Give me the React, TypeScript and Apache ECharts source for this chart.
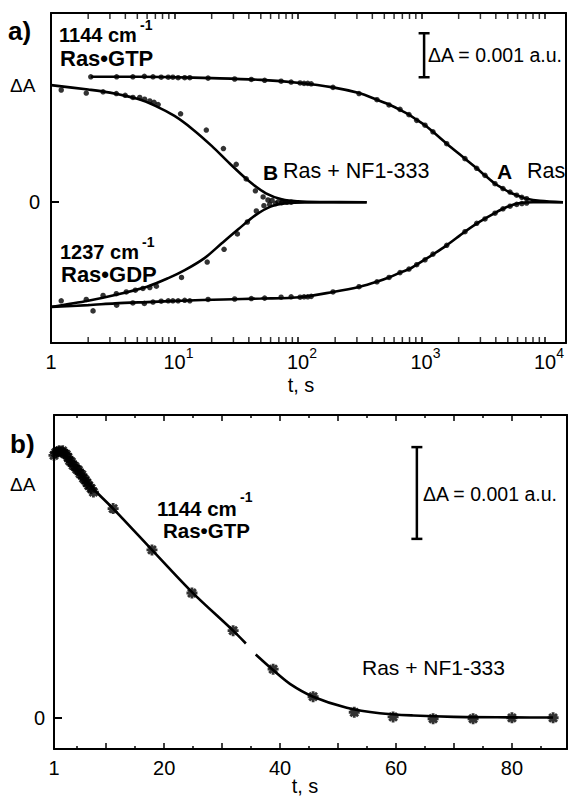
import React, { useEffect, useRef } from 'react';
import * as echarts from 'echarts';

const FONT = '"Liberation Sans", Arial, Helvetica, sans-serif';
const BLACK = '#000';

// ---------- panel a (log time axis), values in units of 0.001 a.u. ----------
// A: Ras intrinsic, 1144 cm-1 (Ras.GTP) - fit line
const aGtpFit: [number, number][] = [
  [2.1, 2.85], [5, 2.85], [10, 2.84], [20, 2.82], [50, 2.78], [104, 2.71], [192, 2.61], [312, 2.48],
  [436, 2.33], [546, 2.22], [670, 2.1], [792, 1.99], [915, 1.87], [1068, 1.75], [1239, 1.6], [1600, 1.33],
  [2250, 0.99], [2800, 0.77], [3267, 0.61], [3938, 0.42], [4570, 0.31], [5210, 0.22], [5900, 0.16],
  [7100, 0.08], [9120, 0.03], [14000, 0],
];
const aGtpPts: [number, number][] = [
  [2.1, 2.85], [3.4, 2.85], [4.6, 2.85], [5.7, 2.86], [6.7, 2.85], [7.8, 2.84], [8.9, 2.84], [9.7, 2.84],
  [10.7, 2.83], [12.1, 2.83], [13.3, 2.83], [18.7, 2.82], [30.7, 2.8], [41.9, 2.79], [53.7, 2.77], [73, 2.75],
  [88, 2.73], [104, 2.71], [112, 2.7], [120, 2.7], [128, 2.69], [192, 2.61], [312, 2.47], [436, 2.33],
  [546, 2.21], [670, 2.11], [792, 1.99], [915, 1.86], [1068, 1.75], [1239, 1.6], [1600, 1.33], [2250, 0.99],
  [2800, 0.77], [3267, 0.61], [3938, 0.42], [4570, 0.31], [5210, 0.23], [5900, 0.16], [6500, 0.11], [7100, 0.08],
];
// A: Ras intrinsic, 1237 cm-1 (Ras.GDP)
const aGdpFit: [number, number][] = [
  [1, -2.38], [2, -2.34], [3.3, -2.3], [6, -2.27], [11.3, -2.24], [25, -2.21], [50, -2.19], [104, -2.16],
  [192, -2.04], [317, -1.92], [434, -1.81], [556, -1.7], [670, -1.6], [808, -1.51], [1040, -1.32],
  [1250, -1.18], [1600, -0.98], [2250, -0.67], [2900, -0.46], [3850, -0.26], [4900, -0.11], [6260, -0.02],
  [8000, 0], [14000, 0],
];
const aGdpPts: [number, number][] = [
  [2.19, -2.47], [3.4, -2.34], [4.6, -2.29], [5.7, -2.3], [6.7, -2.27], [7.8, -2.25], [8.9, -2.24], [9.7, -2.24],
  [10.7, -2.24], [12.1, -2.23], [13.3, -2.24], [18.7, -2.21], [30.7, -2.2], [41.9, -2.19], [53.7, -2.18],
  [73, -2.16], [88, -2.15], [104, -2.16], [112, -2.15], [120, -2.15], [128, -2.14], [192, -2.04], [312, -1.92],
  [436, -1.81], [546, -1.71], [670, -1.6], [792, -1.52], [915, -1.42], [1068, -1.31], [1239, -1.18],
  [1600, -0.98], [2250, -0.67], [2800, -0.48], [3267, -0.38], [3938, -0.25], [4570, -0.15], [5210, -0.09],
  [5900, -0.05], [6500, -0.03], [7100, -0.02],
];
// B: Ras + NF1-333, 1144 cm-1
const bGtpFit: [number, number][] = [
  [1, 2.66], [2, 2.56], [3, 2.49], [5, 2.35], [7, 2.19], [10, 1.96], [14, 1.66], [20, 1.28], [28, 0.88],
  [40, 0.48], [55, 0.2], [75, 0.06], [100, 0.02], [150, 0.005], [360, 0],
];
const bGtpPts: [number, number][] = [
  [1.21, 2.55], [1.93, 2.48], [2.64, 2.51], [3.38, 2.47], [3.99, 2.43], [4.61, 2.38], [5.23, 2.38],
  [5.73, 2.34], [6.31, 2.3], [6.83, 2.27], [7.37, 2.22], [11.2, 2.01], [18.1, 1.64], [24.9, 1.22],
  [31.6, 0.86], [38.1, 0.53], [45.2, 0.26], [52.2, 0.12], [57.1, 0.05], [61.7, 0.04], [68.9, 0.01],
  [75, 0.02], [80, 0.01], [88, 0],
];
// B: Ras + NF1-333, 1237 cm-1
const bGdpFit: [number, number][] = [
  [1, -2.38], [2, -2.24], [3.3, -2.11], [6, -1.92], [9, -1.72], [12, -1.55], [17.5, -1.27], [24, -0.94],
  [33, -0.61], [45, -0.3], [60, -0.1], [83, -0.02], [120, -0.005], [360, 0],
];
const bGdpPts: [number, number][] = [
  [1.21, -2.24], [1.93, -2.21], [2.64, -2.12], [3.38, -2.08], [4.07, -2.04], [4.82, -2.0], [5.55, -1.96],
  [6.31, -1.94], [7.13, -1.91], [11.4, -1.71], [18.4, -1.36], [25.2, -1.07], [32.3, -0.72], [38.9, -0.45],
  [46, -0.2], [53, -0.08], [59, -0.05], [66, -0.03], [74, -0.01], [82, 0],
];
const logMinorTicks = [
  2, 3, 4, 5, 6, 7, 8, 9, 20, 30, 40, 50, 60, 70, 80, 90, 200, 300, 400, 500, 600, 700, 800, 900,
  2000, 3000, 4000, 5000, 6000, 7000, 8000, 9000,
];
const scaleBarA: [number, number][] = [[1050, 2.84], [1050, 3.84]];

// ---------- panel b (linear time axis) ----------
const linFit: ([number, number] | [number, null])[] = [
  [1, 2.86], [1.8, 2.9], [2.6, 2.89], [3.4, 2.84], [4.2, 2.77], [5, 2.7], [6, 2.62], [7, 2.55], [8, 2.48],
  [11.2, 2.28], [17.9, 1.83], [24.8, 1.37], [31.9, 0.95], [34.1, 0.81], [35, null], [35.8, 0.69],
  [38.8, 0.52], [41.7, 0.37], [45.7, 0.23], [51.5, 0.11], [57.2, 0.05], [63, 0.025], [70, 0.01],
  [80, 0.005], [87.1, 0.003],
];
const linPts: [number, number][] = [
  [1.0, 2.86], [1.3, 2.89], [1.6, 2.9], [1.9, 2.91], [2.2, 2.9], [2.5, 2.91], [2.8, 2.88], [3.1, 2.87],
  [3.4, 2.84], [3.7, 2.8], [4.0, 2.79], [4.3, 2.75], [4.6, 2.74], [4.9, 2.71], [5.2, 2.7], [5.5, 2.66],
  [5.8, 2.65], [6.1, 2.61], [6.4, 2.59], [6.7, 2.56], [7.0, 2.53], [7.4, 2.5], [7.8, 2.46],
  [11.2, 2.28], [17.9, 1.83], [24.8, 1.36], [31.9, 0.95], [38.8, 0.53], [45.7, 0.23], [52.8, 0.06],
  [59.5, 0.01], [66.4, -0.01], [73.3, -0.01], [80.0, 0], [87.1, 0],
];
const linMajorTicks = [10, 20, 30, 40, 50, 60, 70, 80];
const linMinorTicks = [5, 15, 25, 35, 45, 55, 65, 75, 85];
const linLabels = [1, 20, 40, 60, 80];
const scaleBarB: [number, number][] = [[63.6, 1.95], [63.6, 2.95]];

const ASTERISK =
  'path://M-1.3,-5L1.3,-5L1.3,5L-1.3,5Z M-5,-1.3L5,-1.3L5,1.3L-5,1.3Z ' +
  'M-4.46,-2.62L-2.62,-4.46L4.46,2.62L2.62,4.46Z M-2.62,4.46L-4.46,2.62L2.62,-4.46L4.46,-2.62Z';

const axisLineStyle = { show: true, onZero: false, lineStyle: { color: BLACK, width: 2 } };
const noLine = { show: false, onZero: false };

function txt(text: string, x: number, y: number, size: number, bold = false, align = 'left') {
  return {
    type: 'text',
    x,
    y,
    silent: true,
    style: {
      text,
      fill: BLACK,
      fontFamily: FONT,
      fontSize: size,
      fontWeight: bold ? 'bold' : 'normal',
      align,
      verticalAlign: 'middle',
    },
  };
}

function logLabel(v: number) {
  const l = Math.log10(v);
  const k = Math.round(l);
  if (Math.abs(l - k) > 1e-6) return '';
  return k === 0 ? '{b|1}' : `{bp|10}{s|${k}}`;
}

export default function App() {
  const ref = useRef<HTMLDivElement>(null);
  useEffect(() => {
    if (!ref.current) return;
    const chart = echarts.init(ref.current, undefined, { renderer: 'svg' });
    const lineS = (data: any, xi: number, yi: number) => ({
      type: 'line',
      data,
      xAxisIndex: xi,
      yAxisIndex: yi,
      showSymbol: false,
      smooth: 0.3,
      connectNulls: false,
      lineStyle: { color: BLACK, width: 2.6 },
      z: 2,
      silent: true,
    });
    const dotS = (data: any, xi: number, yi: number, symbol: string, size: number) => ({
      type: 'scatter',
      data,
      xAxisIndex: xi,
      yAxisIndex: yi,
      symbol,
      symbolSize: size,
      itemStyle: { color: BLACK },
      clip: false,
      z: 3,
      silent: true,
    });
    const barS = (data: any, xi: number, yi: number) => ({
      type: 'line',
      data,
      xAxisIndex: xi,
      yAxisIndex: yi,
      symbol: 'rect',
      symbolSize: [11, 2.5],
      showSymbol: true,
      itemStyle: { color: BLACK },
      lineStyle: { color: BLACK, width: 2.5 },
      silent: true,
    });
    const richBase = { fontSize: 20, fontFamily: FONT, color: BLACK, lineHeight: 26, verticalAlign: 'bottom' };
    const tickStyle = { color: BLACK, width: 1.5 };
    const option: any = {
      animation: false,
      backgroundColor: '#fff',
      grid: [
        { left: 51, top: 13, width: 515, height: 330, outerBoundsMode: 'none' },
        { left: 54, top: 415, width: 513, height: 334, outerBoundsMode: 'none' },
      ],
      xAxis: [
        {
          gridIndex: 0, type: 'log', logBase: 10, min: 1, max: 14800, position: 'bottom',
          axisLine: axisLineStyle,
          axisTick: { inside: true, length: 6, lineStyle: tickStyle },
          axisLabel: {
            margin: 3, formatter: logLabel, color: BLACK,
            rich: {
              b: richBase,
              bp: { ...richBase, padding: [0, 0, 0, 8] },
              s: { fontSize: 14, fontFamily: FONT, color: BLACK, lineHeight: 26, verticalAlign: 'top' },
            },
          },
          splitLine: { show: false },
        },
        {
          gridIndex: 0, type: 'log', logBase: 10, min: 1, max: 14800, position: 'top',
          axisLine: axisLineStyle,
          axisTick: { inside: true, length: 6, lineStyle: tickStyle },
          axisLabel: { show: false },
          splitLine: { show: false },
        },
        {
          gridIndex: 1, type: 'value', min: 1, max: 89.5, position: 'bottom',
          axisLine: axisLineStyle,
          axisTick: { inside: true, length: 6, customValues: linMajorTicks, lineStyle: tickStyle },
          axisLabel: { customValues: linLabels, margin: 9, fontSize: 20, fontFamily: FONT, color: BLACK },
          splitLine: { show: false },
        },
        {
          gridIndex: 1, type: 'value', min: 1, max: 89.5, position: 'bottom',
          axisLine: noLine,
          axisTick: { inside: true, length: 3, customValues: linMinorTicks, lineStyle: tickStyle },
          axisLabel: { show: false },
          splitLine: { show: false },
        },
        {
          gridIndex: 1, type: 'value', min: 1, max: 89.5, position: 'top',
          axisLine: axisLineStyle,
          axisTick: { inside: true, length: 6, customValues: linMajorTicks, lineStyle: tickStyle },
          axisLabel: { show: false },
          splitLine: { show: false },
        },
        {
          gridIndex: 1, type: 'value', min: 1, max: 89.5, position: 'top',
          axisLine: noLine,
          axisTick: { inside: true, length: 3, customValues: linMinorTicks, lineStyle: tickStyle },
          axisLabel: { show: false },
          splitLine: { show: false },
        },
      ],
      yAxis: [
        {
          gridIndex: 0, type: 'value', min: -3.2, max: 4.3, position: 'left',
          axisLine: axisLineStyle,
          axisTick: { inside: true, length: 8, customValues: [0], lineStyle: { color: BLACK, width: 2 } },
          axisLabel: { customValues: [0], margin: 11, fontSize: 20, fontFamily: FONT, color: BLACK },
          splitLine: { show: false },
        },
        {
          gridIndex: 0, type: 'value', min: -3.2, max: 4.3, position: 'right',
          axisLine: axisLineStyle, axisTick: { show: false }, axisLabel: { show: false },
          splitLine: { show: false },
        },
        {
          gridIndex: 1, type: 'value', min: -0.34, max: 3.3, position: 'left',
          axisLine: axisLineStyle,
          axisTick: { inside: true, length: 8, customValues: [0], lineStyle: { color: BLACK, width: 2 } },
          axisLabel: { customValues: [0], margin: 9, fontSize: 20, fontFamily: FONT, color: BLACK },
          splitLine: { show: false },
        },
        {
          gridIndex: 1, type: 'value', min: -0.34, max: 3.3, position: 'right',
          axisLine: axisLineStyle, axisTick: { show: false }, axisLabel: { show: false },
          splitLine: { show: false },
        },
      ],
      series: [
        lineS(aGtpFit, 0, 0),
        lineS(aGdpFit, 0, 0),
        lineS(bGtpFit, 0, 0),
        lineS(bGdpFit, 0, 0),
        dotS(aGtpPts, 0, 0, 'circle', 5.5),
        dotS(aGdpPts, 0, 0, 'circle', 5.5),
        dotS(bGtpPts, 0, 0, 'circle', 5.5),
        dotS(bGdpPts, 0, 0, 'circle', 5.5),
        {
          type: 'scatter', xAxisIndex: 0, yAxisIndex: 0, silent: true, clip: false,
          data: logMinorTicks.map((t) => [t, -3.2]),
          symbol: 'rect', symbolSize: [1.5, 6], symbolOffset: [0, -3], itemStyle: { color: BLACK },
        },
        {
          type: 'scatter', xAxisIndex: 0, yAxisIndex: 0, silent: true, clip: false,
          data: logMinorTicks.map((t) => [t, 4.3]),
          symbol: 'rect', symbolSize: [1.5, 6], symbolOffset: [0, 3], itemStyle: { color: BLACK },
        },
        barS(scaleBarA, 0, 0),
        lineS(linFit, 2, 2),
        dotS(linPts, 2, 2, ASTERISK, 11),
        barS(scaleBarB, 2, 2),
      ],
      graphic: [
        // panel a
        txt('a)', 8, 31, 26, true),
        txt('1144 cm', 59, 35, 20, true),
        txt('-1', 140, 25, 14, true),
        txt('Ras\u2022GTP', 60, 58, 22, true),
        txt('\u0394A', 10, 85, 19),
        txt('1237 cm', 60, 252, 20, true),
        txt('-1', 142, 242, 14, true),
        txt('Ras\u2022GDP', 61, 274, 22, true),
        txt('B', 263, 172, 21, true),
        txt('Ras + NF1-333', 283, 171, 21.5),
        txt('A', 497, 171, 21, true),
        txt('Ras', 527, 171, 21.5),
        txt('\u0394A = 0.001 a.u.', 428, 55, 19.5),
        txt('t, s', 301, 385, 20, false, 'center'),
        // panel b
        txt('b)', 10, 444, 26, true),
        txt('\u0394A', 10, 484, 19),
        txt('1144 cm', 157, 508, 20.5, true),
        txt('-1', 240, 497, 14, true),
        txt('Ras\u2022GTP', 163, 530, 20.5, true),
        txt('\u0394A = 0.001 a.u.', 423, 494, 19.5),
        txt('Ras + NF1-333', 362, 667, 21),
        txt('t, s', 305, 786, 20, false, 'center'),
      ],
    };
    chart.setOption(option);
    return () => chart.dispose();
  }, []);
  return (
    <div
      ref={ref}
      style={{ position: 'absolute', left: 0, top: 0, width: 569, height: 802, background: '#fff' }}
    />
  );
}
